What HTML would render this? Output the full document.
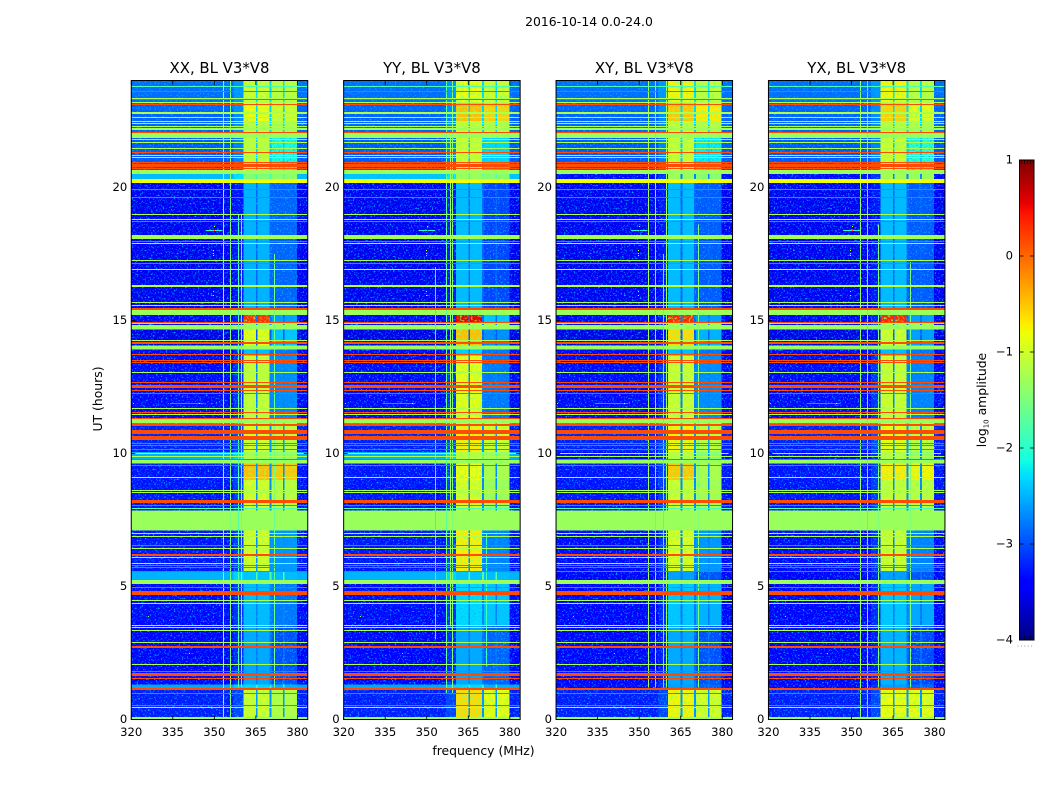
<!DOCTYPE html>
<html lang="en">
<head>
<meta charset="utf-8">
<title>2016-10-14 dynamic spectra</title>
<style>
html,body{margin:0;padding:0;background:#fff;}
svg{display:block;}
text{font-family:"DejaVu Sans","Liberation Sans",sans-serif;fill:#000;}
.tick{font-size:11.6px;}
.title{font-size:14.9px;text-anchor:middle;}
.label{font-size:12.4px;text-anchor:middle;}
</style>
</head>
<body>
<svg id="figure" xmlns="http://www.w3.org/2000/svg" width="1050" height="800" viewBox="0 0 1050 800">
  <defs>
    <filter id="speckle" x="0" y="0" width="100%" height="100%" color-interpolation-filters="sRGB">
      <feTurbulence type="fractalNoise" baseFrequency="0.62" numOctaves="2" seed="7"/>
      <feColorMatrix type="matrix" values="0 0 0 0 0  0 0 0 0 0.7  0 0 0 0 1  5 0 0 0 -2.8"/>
    </filter>
    <filter id="band-speckle" x="0" y="0" width="100%" height="100%" color-interpolation-filters="sRGB">
      <feTurbulence type="fractalNoise" baseFrequency="0.45" numOctaves="2" seed="3"/>
      <feColorMatrix type="matrix" values="0 0 0 0 0.56  0 0 0 0 1  0 0 0 0 0.4  3.5 0 0 0 -1.75" result="tint"/>
      <feComposite in="tint" in2="SourceAlpha" operator="in" result="masked"/>
      <feMerge><feMergeNode in="SourceGraphic"/><feMergeNode in="masked"/></feMerge>
    </filter>
  </defs>
  <text class="label" x="589" y="26">2016-10-14 0.0-24.0</text>
  <text class="title" x="219.5" y="73">XX, BL V3*V8</text>
  <text class="title" x="431.9" y="73">YY, BL V3*V8</text>
  <text class="title" x="644.3" y="73">XY, BL V3*V8</text>
  <text class="title" x="856.7" y="73">YX, BL V3*V8</text>
  <text class="label" x="483.5" y="755">frequency (MHz)</text>
  <text class="label" transform="translate(102,399) rotate(-90)">UT (hours)</text>
  <text class="label" transform="translate(986,400) rotate(-90)">log<tspan font-size="7" dy="2.5">10</tspan><tspan dy="-2.5"> amplitude</tspan></text>
  <g id="panels"></g>
  <g id="colorbar"></g>
</svg>
<script>
// ---- axis data ----
const freqTicks = [320, 335, 350, 365, 380];
const hourTicks = [0, 5, 10, 15, 20];
const colorbarTicks = [-4, -3, -2, -1, 0, 1];
const colorMin = -4;
const colorMax = 1;
const freqMin = 320;
const freqMax = 383.73;
const hourMin = 0;
const hourMax = 24;

// ---- frequency channels (MHz) ----
const channelEdges = [320, 357, 360.5, 365, 365.6, 369.9, 370.6, 374.8, 375.4, 379.8, 383.73];
const channelKinds = ['sky', 'shoulder', 'inner', 'gap', 'inner', 'gap', 'outer', 'gap', 'outer', 'sky'];

// ---- time blocks: start hour and log10 amplitude per polarisation ----
const blockStart = [0, 0.10, 1.15, 1.32, 3.55, 5.15, 5.55, 7.10, 7.85, 9.00, 9.62, 9.78, 10.05, 11.13, 11.32, 13.68, 13.90, 14.06, 14.66, 14.82, 14.94, 15.20, 15.40, 20.25, 20.60, 21.86, 22.08, 22.50, 23.20];
const xxSky = [-1.3,-3.25,-2.55,-3.4,-3.35,-2.5,-3.3,-1.3,-3.3,-3.3,-1.3,-2.5,-3.25,-1.3,-3.35,-3.45,-1.3,-3.55,-1.3,-3.35,-3.45,-1.3,-3.5,-2.45,-2.95,-1.3,-2.9,-2.9,-2.85];
const xxInner = [-1.3,-1.0,-2.3,-2.55,-2.45,-2.4,-0.95,-1.3,-0.95,-0.45,-1.3,-1.25,-0.95,-1.3,-1.05,-2.45,-1.3,-0.85,-1.3,-1.3,0.3,-1.3,-2.5,-1.5,-1.05,-1.3,-1.1,-0.8,-1.0];
const xxOuter = [-1.3,-1.15,-2.5,-3.0,-2.8,-2.45,-2.65,-1.3,-1.1,-0.5,-1.3,-1.4,-1.1,-1.3,-2.7,-2.8,-1.3,-2.4,-1.3,-1.3,-2.6,-1.3,-2.9,-1.4,-2.1,-1.3,-1.2,-1.0,-1.1];
const yySky = [-1.3,-3.25,-2.55,-3.4,-3.35,-2.5,-3.3,-1.3,-3.3,-3.3,-1.3,-2.5,-3.25,-1.3,-3.35,-3.45,-1.3,-3.55,-1.3,-3.35,-3.45,-1.3,-3.5,-2.4,-2.95,-1.3,-2.9,-2.9,-2.85];
const yyInner = [-1.3,-0.6,-2.3,-2.55,-2.3,-2.4,-0.7,-1.3,-0.95,-0.8,-1.3,-1.1,-0.7,-1.3,-0.85,-2.35,-1.3,-0.45,-1.3,-1.2,0.55,-1.3,-2.45,-1.3,-1.0,-1.3,-1.05,-0.45,-0.8];
const yyOuter = [-1.3,-0.85,-2.5,-2.9,-2.4,-2.45,-2.75,-1.3,-1.3,-1.2,-1.3,-1.3,-1.0,-1.3,-2.8,-2.8,-1.3,-2.7,-1.3,-1.3,-2.4,-1.3,-3.05,-1.45,-2.3,-1.3,-1.15,-0.55,-1.0];
const xySky = [-1.3,-3.25,-3.35,-3.45,-3.4,-3.45,-3.35,-1.3,-3.3,-3.3,-1.3,-3.35,-3.25,-1.3,-3.35,-3.45,-1.3,-3.55,-1.3,-3.35,-3.45,-1.3,-3.5,-3.35,-2.95,-1.3,-2.9,-2.9,-2.85];
const xyInner = [-1.3,-0.75,-2.6,-2.55,-2.4,-2.6,-0.9,-1.3,-1.0,-0.5,-1.3,-1.1,-0.75,-1.3,-1.0,-2.45,-1.3,-0.6,-1.3,-1.2,0.35,-1.3,-2.45,-1.3,-1.0,-1.3,-1.05,-0.5,-0.75];
const xyOuter = [-1.3,-0.95,-2.9,-3.0,-2.5,-3.0,-2.65,-1.3,-1.25,-1.2,-1.3,-1.5,-1.1,-1.3,-2.7,-2.8,-1.3,-2.5,-1.3,-1.3,-2.6,-1.3,-2.95,-1.45,-2.2,-1.3,-1.15,-0.7,-1.1];
const yxSky = [-1.3,-3.25,-3.35,-3.45,-3.4,-3.45,-3.35,-1.3,-3.3,-3.3,-1.3,-3.35,-3.25,-1.3,-3.35,-3.45,-1.3,-3.55,-1.3,-3.35,-3.45,-1.3,-3.5,-3.35,-2.95,-1.3,-2.9,-2.9,-2.85];
const yxInner = [-1.3,-0.8,-2.6,-2.5,-2.4,-2.6,-1.0,-1.3,-1.05,-0.7,-1.3,-1.1,-0.85,-1.3,-1.0,-2.45,-1.3,-1.0,-1.3,-1.2,0.35,-1.3,-2.45,-1.25,-1.0,-1.3,-1.1,-0.55,-0.75];
const yxOuter = [-1.3,-0.85,-2.9,-3.05,-2.55,-3.0,-2.75,-1.3,-1.1,-0.75,-1.3,-1.4,-1.1,-1.3,-2.75,-2.8,-1.3,-2.6,-1.3,-1.3,-2.6,-1.3,-2.95,-1.3,-2.0,-1.3,-1.2,-0.9,-1.1];

// ---- broadband interference rows, shared by all polarisations ----
const rfiHours = [0.46,0.53,0.98,1.14,1.55,1.70,1.80,2.06,2.73,2.90,3.36,3.46,3.54,4.36,4.48,4.76,4.95,5.17,5.58,5.70,5.79,5.86,6.09,6.20,6.43,6.53,6.89,6.99,7.92,8.05,8.18,8.52,8.59,9.09,9.53,9.77,9.90,10.00,10.15,10.30,10.37,10.58,10.77,10.87,11.05,11.10,11.33,11.45,11.52,11.68,12.27,12.37,12.52,12.66,13.06,13.41,13.50,13.71,14.16,14.25,14.88,14.94,15.44,15.57,15.69,16.28,16.90,17.13,17.24,17.89,17.96,18.13,18.72,18.78,18.97,19.61,19.91,20.26,20.57,20.72,20.82,20.92,21.13,21.20,21.30,21.45,21.70,21.81,22.07,22.20,22.30,22.39,22.47,22.63,22.76,22.82,23.10,23.20,23.29,23.35,23.61,23.80];
const rfiLevels = [-1.2,0.15,0.15,0.15,0.15,0.15,0.15,-1.2,0.15,-1.2,-1.2,-1.2,-1.2,-1.2,-1.2,0.15,0.15,-1.3,0.15,0.15,0.15,-1.2,-1.2,0.15,-1.2,0.15,-1.2,-1.2,-1.8,0.15,0.15,-1.2,-1.2,-1.2,0.15,0.15,-1.2,-1.2,0.15,0.15,0.15,0.15,0.15,0.15,0.15,0.15,0.15,-1.2,0.15,-1.2,0.15,0.15,0.15,0.15,-1.2,0.15,0.15,0.15,0.15,-1.2,-1.2,0.15,0.15,-1.2,-1.2,-1.1,-1.2,0.15,-1.2,-1.2,0.15,-1.25,0.15,-1.2,-1.2,0.15,0.15,-0.8,-1.3,0.15,0.15,0.15,-1.2,-1.2,0.15,-1.2,-1.2,-1.2,0.15,-1.3,-1.2,-1.2,-1.2,-1.2,-1.2,-1.2,0.15,-1.2,0.15,-1.2,0.15,-1.8];
const rfiSpans = [0.04,0.04,0.04,0.08,0.04,0.12,0.04,0.04,0.06,0.04,0.04,0.04,0.04,0.04,0.04,0.14,0.04,0.16,0.04,0.04,0.04,0.04,0.04,0.07,0.04,0.04,0.04,0.04,0.04,0.04,0.12,0.04,0.04,0.04,0.04,0.04,0.04,0.04,0.04,0.04,0.04,0.14,0.12,0.04,0.04,0.04,0.04,0.04,0.04,0.04,0.04,0.04,0.12,0.04,0.04,0.04,0.04,0.04,0.08,0.04,0.04,0.04,0.06,0.04,0.04,0.09,0.04,0.04,0.04,0.04,0.04,0.14,0.04,0.04,0.04,0.04,0.04,0.14,0.16,0.04,0.12,0.04,0.04,0.04,0.04,0.04,0.04,0.04,0.04,0.08,0.04,0.04,0.04,0.04,0.04,0.04,0.04,0.04,0.04,0.04,0.04,0.04];

// ---- narrowband interference columns per polarisation ----
const xxLineFreq = [353.3, 355.8, 358.6, 359.8, 371.4];
const xxLineLevel = [-1.35, -1.5, -1.8, -1.6, -1.6];
const xxLineFrom = [0.1, 0.1, 1.2, 1.2, 1.2];
const xxLineTo = [24, 24, 19, 19, 17.5];
const yyLineFreq = [353.0, 356.8, 358.5, 359.2, 371.4];
const yyLineLevel = [-2.1, -1.7, -1.3, -1.5, -1.9];
const yyLineFrom = [3.0, 1.0, 3.5, 1.0, 2.0];
const yyLineTo = [17.0, 24, 22, 24, 7.0];
const xyLineFreq = [353.2, 355.9, 358.6, 359.6, 371.3];
const xyLineLevel = [-1.3, -1.8, -1.9, -1.3, -1.5];
const xyLineFrom = [1.2, 1.2, 1.2, 1.2, 1.2];
const xyLineTo = [24, 24, 17.5, 24, 18.6];
const yxLineFreq = [353.2, 355.7, 359.7, 371.2];
const yxLineLevel = [-1.4, -1.9, -1.5, -1.5];
const yxLineFrom = [0.1, 0.1, 1.2, 1.2];
const yxLineTo = [24, 24, 18.6, 17.2];

// ---- isolated bursts, shared by all polarisations ----
const burstFreq = [350, 350, 349.6, 349.6, 349.6, 349.6, 349.6, 332, 326, 341, 320.5, 344.5];
const burstHour = [18.4, 18.55, 17.45, 17.55, 17.65, 16.1, 15.95, 4.7, 3.9, 2.5, 11.9, 11.9];
const burstLevel = [0.2, -1.0, -1.1, -1.0, -1.1, -1.1, -1.1, -1.9, -1.6, -1.9, -1.5, -0.8];
const smearHour = [18.4, 11.9];
const smearFrom = [347, 334];
const smearTo = [353, 346];
const smearLevel = [-2.0, -2.6];

// ---- panel list ----
const panelNames = ['xx', 'yy', 'xy', 'yx'];
const panelSky = [xxSky, yySky, xySky, yxSky];
const panelInner = [xxInner, yyInner, xyInner, yxInner];
const panelOuter = [xxOuter, yyOuter, xyOuter, yxOuter];
const panelLineFreq = [xxLineFreq, yyLineFreq, xyLineFreq, yxLineFreq];
const panelLineLevel = [xxLineLevel, yyLineLevel, xyLineLevel, yxLineLevel];
const panelLineFrom = [xxLineFrom, yyLineFrom, xyLineFrom, yxLineFrom];
const panelLineTo = [xxLineTo, yyLineTo, xyLineTo, yxLineTo];

// ---- layout ----
const NS = 'http://www.w3.org/2000/svg';
const axTop = 81;
const axBottom = 719.5;
const axWidth = 176.5;
const axStep = 212.4;
const axLeft0 = 131.25;
const cbLeft = 1019.5;
const cbRight = 1034;
const cbTop = 160;
const cbBottom = 640;

function yOf(h) { return axBottom + (h - hourMin) / (hourMax - hourMin) * (axTop - axBottom); }
function xOf(f, left) { return left + (f - freqMin) / (freqMax - freqMin) * axWidth; }
function cbY(v) { return cbBottom + (v - colorMin) / (colorMax - colorMin) * (cbTop - cbBottom); }
function ramp(t, pts) {
  for (let i = 1; i < pts.length; i++) {
    if (t <= pts[i][0]) {
      const a = pts[i - 1], b = pts[i];
      return a[1] + (t - a[0]) / (b[0] - a[0]) * (b[1] - a[1]);
    }
  }
  return pts[pts.length - 1][1];
}
function jet(v) {
  const t = Math.max(0, Math.min(1, (v - colorMin) / (colorMax - colorMin)));
  const r = ramp(t, [[0,0],[0.35,0],[0.66,1],[0.89,1],[1,0.5]]);
  const g = ramp(t, [[0,0],[0.125,0],[0.375,1],[0.64,1],[0.91,0],[1,0]]);
  const b = ramp(t, [[0,0.5],[0.11,1],[0.34,1],[0.65,0],[1,0]]);
  return 'rgb(' + Math.round(r * 255) + ',' + Math.round(g * 255) + ',' + Math.round(b * 255) + ')';
}
function mk(tag, attrs, parent) {
  const el = document.createElementNS(NS, tag);
  for (const k in attrs) el.setAttribute(k, attrs[k]);
  parent.appendChild(el);
  return el;
}
function cellLevel(kind, sky, inner, outer) {
  if (kind === 'inner') return inner;
  if (kind === 'outer') return outer;
  if (kind === 'gap') return sky < -2 ? sky + 0.6 : sky;
  if (kind === 'shoulder') return sky < -2 ? sky + 0.2 : sky;
  return sky;
}

const root = document.getElementById('panels');
panelNames.forEach(function (name, p) {
  const left = axLeft0 + p * axStep;
  const right = left + axWidth;
  const group = mk('g', {}, root);
  
  
  const clip = mk('clipPath', { id: 'clip-' + name }, group);
  mk('rect', { x: left, y: axTop, width: axWidth, height: axBottom - axTop }, clip);
  const dark = mk('g', { 'clip-path': 'url(#clip-' + name + ')', 'shape-rendering': 'crispEdges' }, group);
  
  
  const noise = mk('rect', { x: left, y: axTop, width: axWidth, height: axBottom - axTop, filter: 'url(#speckle)' }, group);
  
  
  const bright = mk('g', { 'clip-path': 'url(#clip-' + name + ')', 'shape-rendering': 'crispEdges', filter: 'url(#band-speckle)' }, group);
  
  

  blockStart.forEach(function (start, i) {
    const end = i + 1 < blockStart.length ? blockStart[i + 1] : hourMax;
    channelKinds.forEach(function (kind, c) {
      const lvl = cellLevel(kind, panelSky[p][i], panelInner[p][i], panelOuter[p][i]);
      const x0 = xOf(channelEdges[c], left);
      const x1 = xOf(channelEdges[c + 1], left);
      const cell = mk('rect', { x: x0, y: yOf(end), width: x1 - x0, height: yOf(start) - yOf(end), fill: jet(lvl) }, lvl < -1.9 ? dark : bright);
      
      
    });
  });

  const over = mk('g', { 'clip-path': 'url(#clip-' + name + ')', 'shape-rendering': 'crispEdges' }, group);
  
  
  panelLineFreq[p].forEach(function (f, i) {
    const yA = yOf(panelLineTo[p][i]);
    const yB = yOf(panelLineFrom[p][i]);
    const vl = mk('rect', { x: Math.round(xOf(f, left)), y: yA, width: 1, height: yB - yA, fill: jet(panelLineLevel[p][i]) }, over);
    
    
  });
  smearHour.forEach(function (h, i) {
    const x0 = xOf(smearFrom[i], left);
    const sm = mk('rect', { x: x0, y: Math.round(yOf(h)), width: xOf(smearTo[i], left) - x0, height: 1, fill: jet(smearLevel[i]) }, over);
    
    
  });
  burstFreq.forEach(function (f, i) {
    const bu = mk('rect', { x: Math.round(xOf(f, left)), y: Math.round(yOf(burstHour[i])), width: 1, height: 1, fill: jet(burstLevel[i]) }, over);
    
    
  });
  rfiHours.forEach(function (h, i) {
    const yA = Math.round(yOf(h + rfiSpans[i] / 2));
    const thick = Math.max(1, Math.round(yOf(h - rfiSpans[i] / 2) - yOf(h + rfiSpans[i] / 2)));
    const row = mk('rect', { x: left, y: yA, width: axWidth, height: thick, fill: jet(rfiLevels[i]) }, over);
    
    
  });

  const frame = mk('rect', { x: left, y: axTop - 0.5, width: axWidth, height: axBottom - axTop + 0.5, fill: 'none', stroke: '#000', 'stroke-width': 1 }, group);
  
  

  freqTicks.forEach(function (f) {
    const x = xOf(f, left);
    const tb = mk('line', { x1: x, x2: x, y1: axBottom, y2: axBottom - 4, stroke: '#000', 'stroke-width': 0.8 }, group);
    
    
    const tt = mk('line', { x1: x, x2: x, y1: axTop, y2: axTop + 4, stroke: '#000', 'stroke-width': 0.8 }, group);
    
    
    const lab = mk('text', { x: x, y: 736, class: 'tick', 'text-anchor': 'middle' }, group);
    
    
    lab.textContent = String(f);
  });
  hourTicks.forEach(function (h) {
    const y = yOf(h);
    const tl = mk('line', { x1: left, x2: left + 4, y1: y, y2: y, stroke: '#000', 'stroke-width': 0.8 }, group);
    
    
    const tr = mk('line', { x1: right, x2: right - 4, y1: y, y2: y, stroke: '#000', 'stroke-width': 0.8 }, group);
    
    
    const lab = mk('text', { x: left - 4, y: y + 3.4, class: 'tick', 'text-anchor': 'end' }, group);
    
    
    lab.textContent = String(h);
  });
});

// ---- colorbar ----
const cb = document.getElementById('colorbar');
for (let v = colorMin; v < colorMax; v += 1 / 48) {
  const yA = cbY(v + 1 / 48);
  const seg = mk('rect', { x: cbLeft, y: yA, width: cbRight - cbLeft, height: cbY(v) - yA + 0.4, fill: jet(v + 1 / 96), 'shape-rendering': 'crispEdges' }, cb);
  
  
}
for (let x = cbLeft + 2; x < cbRight; x += 3) {
  const mt = mk('line', { x1: x, x2: x, y1: cbTop, y2: cbTop + 4, stroke: '#000', 'stroke-width': 0.7 }, cb);
  
  
  const mb = mk('line', { x1: x, x2: x, y1: cbBottom, y2: cbBottom - 4, stroke: '#000', 'stroke-width': 0.7 }, cb);
  
  
}
const cbFrame = mk('rect', { x: cbLeft, y: cbTop, width: cbRight - cbLeft, height: cbBottom - cbTop, fill: 'none', stroke: '#000', 'stroke-width': 1 }, cb);


const cbDots = mk('line', { x1: cbLeft - 2, x2: cbRight, y1: 646, y2: 646, stroke: '#999', 'stroke-width': 1, 'stroke-dasharray': '1 2.4' }, cb);


colorbarTicks.forEach(function (v) {
  const y = cbY(v);
  const tk = mk('line', { x1: cbLeft, x2: cbLeft + 4, y1: y, y2: y, stroke: '#000', 'stroke-width': 0.8 }, cb);
  
  
  const tr = mk('line', { x1: cbRight, x2: cbRight - 4, y1: y, y2: y, stroke: '#000', 'stroke-width': 0.8 }, cb);
  
  
  const lab = mk('text', { x: 1013, y: y + 3.6, class: 'tick', 'text-anchor': 'end' }, cb);
  
  
  lab.textContent = v < 0 ? '\u2212' + Math.abs(v) : String(v);
});
</script>
</body>
</html>
